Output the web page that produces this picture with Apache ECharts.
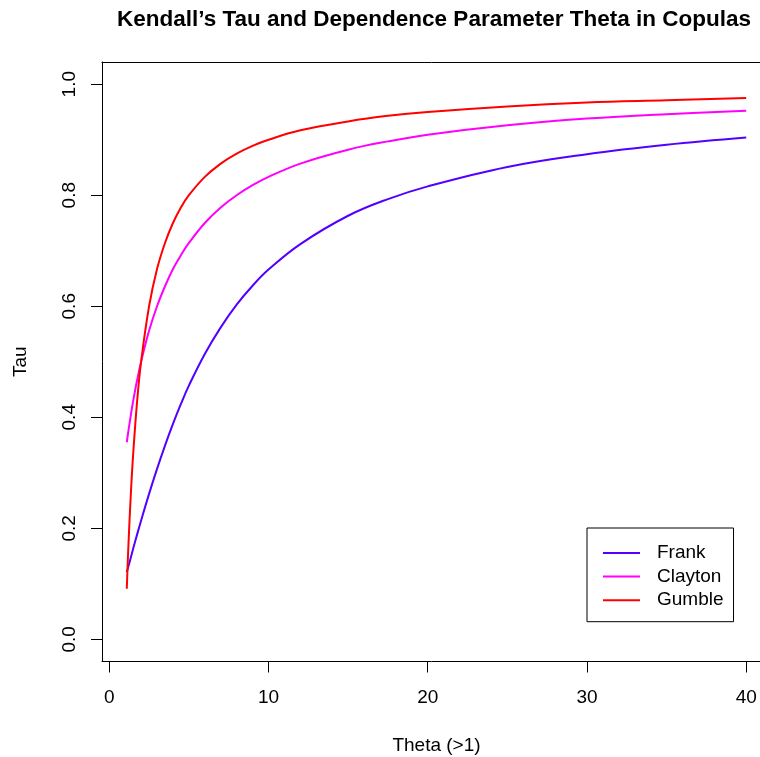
<!DOCTYPE html>
<html>
<head>
<meta charset="utf-8">
<script src="https://cdn.jsdelivr.net/npm/echarts@6/dist/echarts.min.js"></script>
<style>
  html, body { margin: 0; padding: 0; background: #fff; }
  #chart { width: 760px; height: 757px; }
</style>
</head>
<body>
<div id="chart"></div>
<script>
// Kendall's tau against the copula parameter theta
var theta   = [1.1, 1.2, 1.35, 1.5, 1.75, 2, 2.5, 3, 3.5, 4, 4.5, 5, 6, 7, 8, 9, 10, 12, 15, 17.5, 20, 25, 30, 35, 40];
var frank   = [0.121, 0.131, 0.147, 0.163, 0.189, 0.214, 0.262, 0.307, 0.349, 0.388, 0.424, 0.457, 0.514, 0.562, 0.603, 0.637, 0.666, 0.712, 0.763, 0.793, 0.816, 0.851, 0.874, 0.891, 0.904];
var clayton = [0.355, 0.375, 0.403, 0.429, 0.467, 0.500, 0.556, 0.600, 0.636, 0.667, 0.692, 0.714, 0.750, 0.778, 0.800, 0.818, 0.833, 0.857, 0.882, 0.897, 0.909, 0.926, 0.938, 0.946, 0.952];
var gumble  = [0.091, 0.167, 0.259, 0.333, 0.429, 0.500, 0.600, 0.667, 0.714, 0.750, 0.778, 0.800, 0.833, 0.857, 0.875, 0.889, 0.900, 0.917, 0.933, 0.943, 0.950, 0.960, 0.967, 0.971, 0.975];

var xTicks = [0, 10, 20, 30, 40];
var yTicks = [0, 0.2, 0.4, 0.6, 0.8, 1.0];
var seriesNames = ['Frank', 'Clayton', 'Gumble'];
var seriesColors = ['#5200FF', '#FF00FF', '#FF0000'];

function pairs(ys) {
  return theta.map(function (t, i) { return [t, ys[i]]; });
}

var FONT = 'Liberation Sans, Arial, Helvetica, sans-serif';
var chart = echarts.init(document.getElementById('chart'), null, { renderer: 'canvas' });

var lineSeries = [frank, clayton, gumble].map(function (ys, i) {
  return {
    name: seriesNames[i],
    type: 'line',
    data: pairs(ys),
    showSymbol: false,
    symbol: 'none',
    smooth: 0.4,
    lineStyle: { color: seriesColors[i], width: 2 },
    itemStyle: { color: seriesColors[i] },
    animation: false
  };
});

var frameLine = { show: true, onZero: false, lineStyle: { color: '#000', width: 1 } };

chart.setOption({
  backgroundColor: '#ffffff',
  animation: false,
  title: {
    text: 'Kendall\u2019s Tau and Dependence Parameter Theta in Copulas',
    left: 429,
    textAlign: 'center',
    top: 3,
    textStyle: { fontFamily: FONT, fontSize: 22.5, fontWeight: 'bold', color: '#000' }
  },
  // plot frame: bottom/left axis lines plus a bare top axis line;
  // the right side lies past the canvas edge
  grid: {
    left: 102, top: 62, width: 669, height: 599.5,
    show: false,
    containLabel: false,
    outerBoundsMode: 'none'
  },
  legend: {
    orient: 'vertical',
    left: 587, top: 528,
    data: seriesNames,
    icon: 'rect',
    itemWidth: 37, itemHeight: 2,
    itemGap: 4.6,
    padding: [15.5, 10, 12, 16],
    borderColor: '#000', borderWidth: 1, borderRadius: 0,
    backgroundColor: '#fff',
    textStyle: { fontFamily: FONT, fontSize: 19, color: '#000', padding: [0, 0, 0, 12], lineHeight: 19 }
  },
  xAxis: [{
    type: 'value',
    position: 'bottom',
    min: -0.456, max: 41.556,
    name: 'Theta (>1)',
    nameLocation: 'middle',
    nameGap: 75,
    nameTextStyle: { fontFamily: FONT, fontSize: 19, color: '#000' },
    axisLine: frameLine,
    axisTick: { show: true, length: 11, lineStyle: { color: '#000', width: 1 }, customValues: xTicks },
    axisLabel: { fontFamily: FONT, fontSize: 19, color: '#000', margin: 27, customValues: xTicks },
    splitLine: { show: false }
  }, {
    type: 'value',
    position: 'top',
    min: -0.456, max: 41.556,
    axisLine: frameLine,
    axisTick: { show: false },
    axisLabel: { show: false },
    splitLine: { show: false }
  }],
  yAxis: {
    type: 'value',
    min: -0.04, max: 1.04,
    name: 'Tau',
    nameLocation: 'middle',
    nameGap: 72,
    nameRotate: 90,
    nameTextStyle: { fontFamily: FONT, fontSize: 19, color: '#000' },
    axisLine: frameLine,
    axisTick: { show: true, length: 11, lineStyle: { color: '#000', width: 1 }, customValues: yTicks },
    axisLabel: {
      fontFamily: FONT, fontSize: 19, color: '#000', margin: 23, rotate: 90,
      customValues: yTicks,
      formatter: function (v) { return v.toFixed(1); }
    },
    splitLine: { show: false }
  },
  series: lineSeries
});
</script>
</body>
</html>
